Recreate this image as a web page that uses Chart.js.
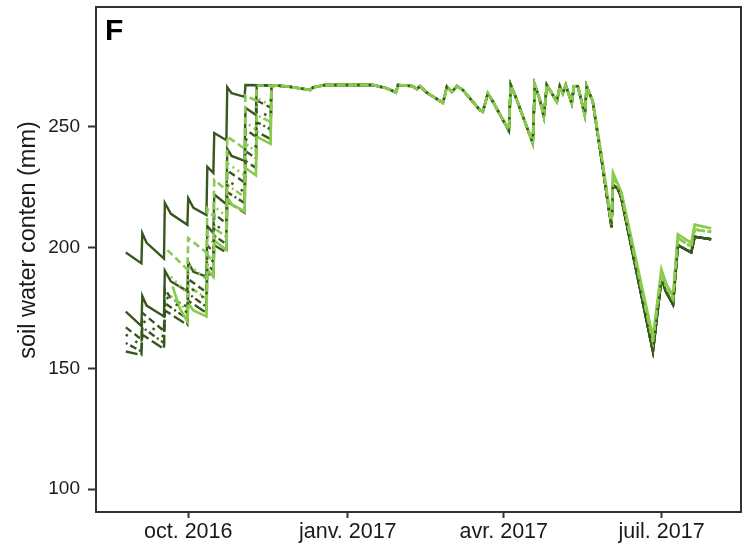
<!DOCTYPE html>
<html>
<head>
<meta charset="utf-8">
<script src="https://cdn.jsdelivr.net/npm/chart.js@4.4.1/dist/chart.umd.min.js"></script>
<style>
  html, body { margin: 0; padding: 0; background: #fff; }
</style>
</head>
<body>
<canvas id="swcChart" width="752" height="551"></canvas>
<script>
// x = days counted from 1 Oct 2016
const tickDays = [0, 92, 182, 273];
const tickLabels = ["oct. 2016", "janv. 2017", "avr. 2017", "juil. 2017"];
const yTicks = [100, 150, 200, 250];

// autumn refill, one array per simulation: [day, mm]
const darkSolidA = [[-36,198],[-27,193.5],[-26.5,206],[-24,202],[-14,195.5],[-13.5,218.5],[-10,214],[-0.5,209.5],[0,220.5],[3,216.5],[10.5,213.5],[11,233.5],[14.5,231],[15,247.5],[22,244.5],[22.5,266.5],[25,264],[32.5,262.5],[33,267.4],[50,267.2]];
const darkSolidB = [[-36,173.5],[-27,167.5],[-26.5,180],[-24,176],[-14,171.5],[-13.5,190.5],[-10,186],[-0.5,182],[0,194],[3,190],[10.5,188],[11,209],[14.5,206],[15,222],[22,218],[22.5,241],[25,238],[32.5,236],[33,258],[39,255],[39.5,267.2],[50,267.2]];
const darkDashed = [[-36,167],[-27,162],[-26.5,173],[-14,165.5],[-13.5,183],[-10,179],[-0.5,175.5],[0,187],[10.5,181.5],[11,201],[14.5,198],[15,214],[22,210],[22.5,232],[32.5,227],[33,249],[39,246],[39.5,261],[47.5,258],[48,267.2],[50,267.2]];
const darkDotted = [[-36,164],[-27,159.5],[-26.5,170],[-14,163],[-13.5,180],[-0.5,173],[0,184],[10.5,178.5],[11,197],[14.5,194],[15,210],[22,206],[22.5,228],[32.5,223],[33,245],[39,242],[39.5,257],[47.5,254],[48,267.2],[50,267.2]];
const darkDotDash = [[-36,160.5],[-27,157],[-26.5,167],[-14,160.5],[-13.5,177],[-0.5,170.5],[0,181],[10.5,175.5],[11,193],[14.5,190.5],[15,205],[22,201.5],[22.5,223],[32.5,218.5],[33,240],[39,237],[39.5,252],[47.5,249],[48,266.5],[50,267.2]];
const darkLongDash = [[-36,157],[-27,155.5],[-26.5,164],[-14,158],[-13.5,174],[-0.5,168],[0,178],[10.5,173],[11,190],[14.5,187.5],[15,201],[22,198],[22.5,219],[32.5,214.5],[33,236],[39,233],[39.5,248],[47.5,245],[48,266],[50,267.2]];
const lightSolid = [[-9,184],[-5,175],[-0.5,169.5],[0,177],[3,174],[10.5,171.5],[11,191],[14.5,188],[15,203],[22,199],[22.5,221],[25,218],[32.5,215],[33,233],[39,230],[39.5,246],[47.5,243],[48,266.5],[50,267.2]];
const lightDashed = [[-12,199],[-0.5,191],[0,204],[10.5,198],[11,216],[14.5,213],[15,228],[22,224],[22.5,246],[32.5,241],[33,263],[39,261],[39.5,267.2],[50,267.2]];
const lightDotted = [[-10,188],[-0.5,181],[0,193],[10.5,187],[11,205],[14.5,202],[15,217],[22,213],[22.5,235],[32.5,230],[33,252],[39,249],[39.5,262],[47.5,259],[48,267.2],[50,267.2]];
const lightDotDash = [[-10,180],[-0.5,174],[0,184],[10.5,179],[11,197],[14.5,194.5],[15,208],[22,204.5],[22.5,226],[32.5,221],[33,243],[39,240],[39.5,255],[47.5,252],[48,267],[50,267.2]];

// winter plateau + spring, same for every simulation
const commonDays = [57,64.5,70.3,72,78.9,106.6,114.6,119.8,121,129.6,131.9,133.6,137.7,146.9,149.2,152.1,155,158.4,168.2,169.9,172.8,175.7,184.9,186,189.5,198.7,199.9,202.8,205.1,206.8,212.6,214.3,216,217.7,221.2,222.4,224.7,228.7,229.8,233.3];
const commonSwc = [266.8,266,265.3,266.4,267.4,267.4,266,264.3,267.4,266.9,265.6,266.9,264.2,260,266.7,264.6,266.9,265.3,257,256.3,263.9,260.5,248.5,267.4,261.2,243.3,267.4,261.2,254.3,267.4,260.5,266.9,263.9,267.4,259.8,266.9,266.9,255,266.9,260.5];

// summer drawdown
const lateDays = [238.5,244.1,245,247.7,249.8,268,272.9,275.7,279.6,282.4,290.1,292.1,301.6];
const lateDark = [236,208.5,226,224.5,220.5,157,187,181.5,176.5,201,198,204.5,203.5];
const lateLight = [237,209.5,229,226,222,161,189,183.5,178.5,204,200.5,207.5,206.5];
const lateLightTop = [237.5,210,231,226.5,223,163,191,185,180,205.5,202,209.5,208];

const DARK = "#38571f";
const LIGHT = "#8acb4f";
const fontFam = '"Liberation Sans", Arial, sans-serif';

function buildSeries(early, lateVals) {
  const pts = early.map(p => ({ x: p[0], y: p[1] }));
  commonDays.forEach((d, i) => pts.push({ x: d, y: commonSwc[i] }));
  lateDays.forEach((d, i) => pts.push({ x: d, y: lateVals[i] }));
  return pts;
}

function line(early, lateVals, color, dash, width) {
  return {
    data: buildSeries(early, lateVals),
    borderColor: color,
    borderWidth: width,
    borderDash: dash,
    pointRadius: 0,
    tension: 0,
    fill: false
  };
}

// first dataset ends up on top
const datasets = [
  line(darkDotted, lateDark, DARK, [2.5, 9], 2.4),
  line(lightSolid, lateLightTop, LIGHT, [], 2.7),
  line(lightDashed, lateLight, LIGHT, [7, 4], 2.6),
  line(lightDotted, lateLight, LIGHT, [2, 4], 2.6),
  line(lightDotDash, lateLight, LIGHT, [2, 3, 7, 3], 2.6),
  line(darkDotDash, lateDark, DARK, [2, 3, 7, 3], 2.4),
  line(darkDashed, lateDark, DARK, [7, 4], 2.4),
  line(darkLongDash, lateDark, DARK, [12, 4], 2.4),
  line(darkSolidB, lateDark, DARK, [], 2.4),
  line(darkSolidA, lateDark, DARK, [], 2.4)
];

const panelDecor = {
  id: "panelDecor",
  afterDraw(chart) {
    const { ctx, chartArea: a } = chart;
    ctx.save();
    ctx.strokeStyle = "#333";
    ctx.lineWidth = 2;
    ctx.strokeRect(a.left, a.top, a.right - a.left, a.bottom - a.top);
    ctx.fillStyle = "#000";
    ctx.font = "bold 30px " + fontFam;
    ctx.fillText("F", a.left + 9, a.top + 33);
    // y axis title
    ctx.translate(29, 240);
    ctx.rotate(-Math.PI / 2);
    ctx.textAlign = "center";
    ctx.textBaseline = "middle";
    ctx.fillStyle = "#1a1a1a";
    ctx.font = "23.5px " + fontFam;
    ctx.fillText("soil water conten (mm)", 0, 0);
    ctx.restore();
  }
};

new Chart(document.getElementById("swcChart"), {
  type: "line",
  data: { datasets },
  plugins: [panelDecor],
  options: {
    responsive: false,
    animation: false,
    layout: { padding: { top: 7, right: 11, left: 0, bottom: 0 } },
    plugins: { legend: { display: false }, tooltip: { enabled: false } },
    scales: {
      x: {
        type: "linear",
        min: -53.2,
        max: 318.8,
        afterBuildTicks: s => { s.ticks = tickDays.map(v => ({ value: v })); },
        afterFit: s => { s.height = 39; s.paddingLeft = 0; s.paddingRight = 0; },
        ticks: {
          autoSkip: false,
          maxRotation: 0,
          padding: 1,
          color: "#1a1a1a",
          font: { family: fontFam, size: 21.5 },
          callback: (v, i) => tickLabels[i]
        },
        grid: { drawOnChartArea: false, tickLength: 6, tickColor: "#333", tickWidth: 2 },
        border: { display: true, color: "#333", width: 2 }
      },
      y: {
        min: 90.5,
        max: 299.7,
        afterBuildTicks: s => { s.ticks = yTicks.map(v => ({ value: v })); },
        afterFit: s => { s.width = 96; s.paddingTop = 0; s.paddingBottom = 0; },
        ticks: {
          padding: 8,
          color: "#1a1a1a",
          font: { family: fontFam, size: 19 }
        },
        grid: { drawOnChartArea: false, tickLength: 8, tickColor: "#333", tickWidth: 2 },
        border: { display: true, color: "#333", width: 2 }
      }
    }
  }
});
</script>
</body>
</html>
